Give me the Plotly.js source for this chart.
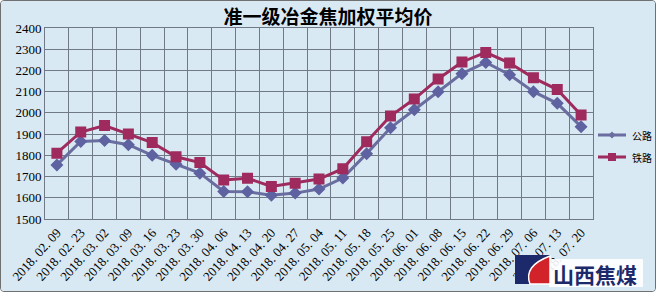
<!DOCTYPE html>
<html><head><meta charset="utf-8">
<script src="https://cdn.plot.ly/plotly-3.0.1.min.js"></script>
<style>
html,body{margin:0;padding:0;background:#fff;}
#chart{width:654px;height:290px;border:1px solid #707070;border-radius:4px;overflow:hidden;background:#d9e9f3;}
</style></head>
<body><div id="chart"></div>
<script>
const dates = ["2018. 02. 09","2018. 02. 23","2018. 03. 02","2018. 03. 09","2018. 03. 16","2018. 03. 23","2018. 03. 30","2018. 04. 06","2018. 04. 13","2018. 04. 20","2018. 04. 27","2018. 05. 04","2018. 05. 11","2018. 05. 18","2018. 05. 25","2018. 06. 01","2018. 06. 08","2018. 06. 15","2018. 06. 22","2018. 06. 29","2018. 07. 06","2018. 07. 13","2018. 07. 20"];
const road = [1755,1865,1870,1850,1800,1758,1716,1630,1628,1612,1622,1641,1693,1808,1930,2015,2100,2185,2238,2180,2100,2045,1935];
const rail = [1810,1910,1940,1900,1860,1793,1766,1684,1692,1653,1669,1688,1737,1864,1985,2065,2160,2240,2285,2235,2165,2110,1990];
const yTicks = [1500,1600,1700,1800,1900,2000,2100,2200,2300,2400];
const seriesNames = ["公路","铁路"];
const seriesColors = ["#6a6d9f","#9e2a5e"];

const L=44, T=27, W=548, H=191;
const px = x => (x-45)/W;      // image px -> paper x
const py = y => (219-y)/H;     // image px -> paper y

const traces = [
 {x:dates, y:road, name:seriesNames[0], type:"scatter", mode:"lines+markers", showlegend:false,
  line:{color:seriesColors[0], width:3}, marker:{symbol:"diamond", size:10, color:"#5e62a0"}},
 {x:dates, y:rail, name:seriesNames[1], type:"scatter", mode:"lines+markers", showlegend:false,
  line:{color:seriesColors[1], width:3}, marker:{symbol:"square", size:11, color:seriesColors[1]}}
];

// manual legend (outside the plot area)
const legY = [135, 157];
const legShapes = [], legAnn = [];
legY.forEach((y, i) => {
  legShapes.push({type:"line", xref:"paper", yref:"paper", x0:px(598), x1:px(626), y0:py(y), y1:py(y),
                  line:{color:seriesColors[i], width:3}});
  const cx = 612, s = i===0 ? 3.5 : 4;
  const path = i===0
    ? `M ${px(cx)} ${py(y-s)} L ${px(cx+s)} ${py(y)} L ${px(cx)} ${py(y+s)} L ${px(cx-s)} ${py(y)} Z`
    : `M ${px(cx-s)} ${py(y-s)} L ${px(cx+s)} ${py(y-s)} L ${px(cx+s)} ${py(y+s)} L ${px(cx-s)} ${py(y+s)} Z`;
  legShapes.push({type:"path", xref:"paper", yref:"paper", path, fillcolor:seriesColors[i], line:{width:0}});
  legAnn.push({text:seriesNames[i], xref:"paper", yref:"paper", x:px(630), y:py(y), xanchor:"left", yanchor:"middle",
               showarrow:false, font:{family:"Noto Sans CJK SC", size:10, color:"#000"}});
});

const layout = {
 width:654, height:290,
 margin:{l:L, r:654-L-W, t:T, b:290-T-H},
 paper_bgcolor:"#d9e9f3", plot_bgcolor:"#d9e9f3",
 title:{text:"<b>准一级冶金焦加权平均价</b>", font:{family:"Noto Sans CJK SC", size:19, color:"#000"},
        x:0.5, xref:"container", y:1-16/290, yanchor:"middle"},
 font:{family:"Liberation Serif", color:"#000"},
 showlegend:false,
 xaxis:{type:"category", tickson:"boundaries", showgrid:true, gridcolor:"#6f7a86", gridwidth:1,
        tickangle:-48, tickfont:{family:"Liberation Serif", size:13}, ticks:"", zeroline:false, automargin:false,
        showline:true, linecolor:"#6f7a86", mirror:true, range:[-0.5,22.5]},
 yaxis:{range:[1500,2400], tickvals:yTicks, showgrid:true, gridcolor:"#6f7a86", gridwidth:1, automargin:false,
        tickfont:{family:"Liberation Serif", size:13}, ticks:"", zeroline:false,
        showline:true, linecolor:"#6f7a86", mirror:true},
 shapes:legShapes.concat([
  {type:"rect", xref:"paper", yref:"paper", x0:px(549), x1:px(643), y0:py(287), y1:py(259),
   fillcolor:"rgba(255,255,255,0.9)", line:{width:0}, layer:"above"},
  {type:"rect", xref:"paper", yref:"paper", x0:px(515), x1:px(550), y0:py(284), y1:py(255),
   fillcolor:"#1c2a6b", line:{width:0}, layer:"above"},
  {type:"path", xref:"paper", yref:"paper",
   path:`M ${px(550)} ${py(256)} Q ${px(523)} ${py(266)} ${px(530)} ${py(284)} L ${px(550)} ${py(284)} Z`,
   fillcolor:"#d2232a", line:{width:1.5, color:"#ffffff"}, layer:"above"}
 ]),
 annotations:legAnn.concat([
  {text:"<b>山西焦煤</b>", xref:"paper", yref:"paper", x:px(595), y:py(273.5), xanchor:"center", yanchor:"middle",
   showarrow:false, font:{family:"Noto Sans CJK SC", size:21, color:"#1c2a6b"}}
 ])
};
Plotly.newPlot("chart", traces, layout, {displayModeBar:false, staticPlot:true});
</script></body></html>
